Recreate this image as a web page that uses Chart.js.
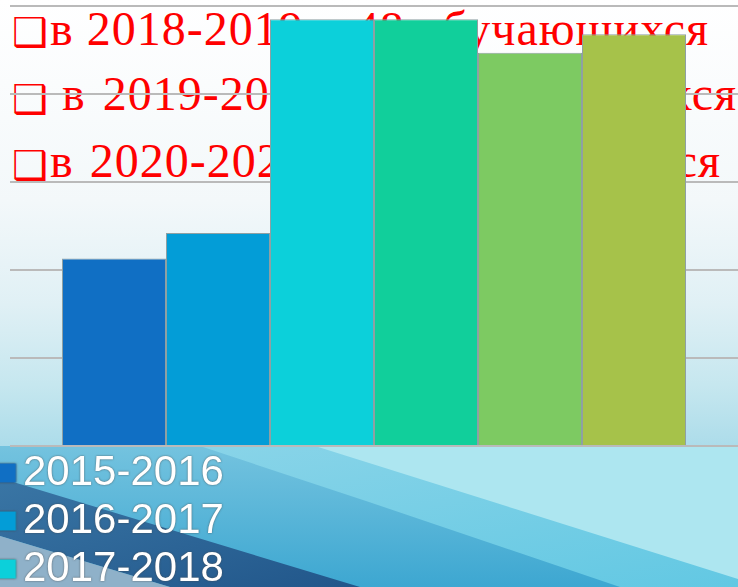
<!DOCTYPE html>
<html><head><meta charset="utf-8">
<script src="https://cdn.jsdelivr.net/npm/chart.js@4.4.1/dist/chart.umd.min.js"></script>
<style>
html,body{margin:0;padding:0;width:738px;height:587px;overflow:hidden;background:#fff;}
#bg{position:absolute;left:0;top:0;width:738px;height:587px;z-index:0}
.red{position:absolute;color:#ff0000;font-family:"Liberation Serif",serif;font-size:48px;line-height:48px;letter-spacing:1px;white-space:nowrap;z-index:1;margin:0}
.bul{position:absolute;color:#ff0000;font-family:"DejaVu Sans",sans-serif;font-size:40px;line-height:40px;z-index:1;margin:0}
#wrap{position:absolute;left:0;top:0;width:738px;height:744px;z-index:2}
</style></head>
<body>
<svg id="bg" width="738" height="587" viewBox="0 0 738 587" xmlns="http://www.w3.org/2000/svg">
  <defs>
    <linearGradient id="top" x1="0" y1="0" x2="0" y2="1">
      <stop offset="0" stop-color="#ffffff"/>
      <stop offset="0.45" stop-color="#f3f8fa"/>
      <stop offset="0.68" stop-color="#e0f0f5"/>
      <stop offset="0.86" stop-color="#c6e7ef"/>
      <stop offset="1" stop-color="#acdcea"/>
    </linearGradient>
    <linearGradient id="dark" x1="0" y1="0" x2="1" y2="1">
      <stop offset="0" stop-color="#3a76a5"/>
      <stop offset="1" stop-color="#21568a"/>
    </linearGradient>
    <linearGradient id="mid" x1="0" y1="0" x2="0" y2="1">
      <stop offset="0" stop-color="#74c3df"/>
      <stop offset="1" stop-color="#3da7d1"/>
    </linearGradient>
    <linearGradient id="lmid" x1="0" y1="0" x2="1" y2="1">
      <stop offset="0" stop-color="#8fd6e9"/>
      <stop offset="1" stop-color="#62c8e3"/>
    </linearGradient>
  </defs>
  <rect x="0" y="0" width="738" height="447" fill="url(#top)"/>
  <rect x="0" y="446" width="738" height="141" fill="#ade6f0"/>
  <polygon points="0,446 315,446 738,579 738,587 0,587" fill="url(#lmid)"/>
  <polygon points="0,446 200,446 369,502 620,587 0,587" fill="url(#mid)"/>
  <polygon points="0,478 360,587 170,587 0,536" fill="url(#dark)"/>
  <polygon points="0,536 170,587 0,587" fill="#8fb1c9"/>
</svg>

<div class="bul" style="left:12px;top:12px">❑</div>
<div class="red" style="left:50px;top:5px">в 2018-2019 – 48 обучающихся</div>
<div class="bul" style="left:12px;top:79px">❑</div>
<div class="red" style="left:62px;top:70px;word-spacing:4px">в 2019-2020 – 45 обучающихся</div>
<div class="bul" style="left:12px;top:145px">❑</div>
<div class="red" style="left:50px;top:137px;word-spacing:3px">в 2020-2021 – 47 обучающихся</div>

<div id="wrap"><canvas id="c" width="738" height="744"></canvas></div>

<script>
const categories = ['Количество обучающихся'];
const seasons = ['2015-2016', '2016-2017', '2017-2018', '2018-2019', '2019-2020', '2020-2021'];
const values = [21.3, 24.2, 48.5, 48.5, 44.7, 46.8];
const colors = ['#106FC4', '#039DD7', '#0CD0DA', '#11CF9B', '#7DCA62', '#A6C24A'];
const yTicks = [0, 10, 20, 30, 40, 50];

function legendSquare(color) {
  const cv = document.createElement('canvas');
  cv.width = 40; cv.height = 20;
  const g = cv.getContext('2d');
  g.fillStyle = color;
  g.fillRect(15.5, 0.5, 19, 19);
  return cv;
}

const datasets = seasons.map((s, i) => ({
  label: s,
  data: [values[i]],
  backgroundColor: colors[i],
  borderColor: '#8fa0a3',
  borderWidth: 1,
  categoryPercentage: 624 / 728,
  barPercentage: 1
}));

const legendOutline = {
  id: 'legendOutline',
  afterUpdate(chart) {
    const lg = chart.legend;
    if (lg && !lg._outlined) {
      const orig = lg.draw;
      lg.draw = function () {
        const ctx = this.ctx;
        ctx.save();
        ctx.shadowColor = 'rgba(70,70,70,0.85)';
        ctx.shadowBlur = 2;
        orig.apply(this, arguments);
        ctx.restore();
      };
      lg._outlined = true;
    }
  }
};

new Chart(document.getElementById('c'), {
  type: 'bar',
  data: { labels: categories, datasets: datasets },
  plugins: [legendOutline],
  options: {
    responsive: false,
    animation: false,
    events: [],
    layout: { padding: { left: -5, right: 0, top: 6, bottom: 0 } },
    scales: {
      x: { display: false },
      y: {
        min: yTicks[0], max: yTicks[yTicks.length - 1],
        afterBuildTicks: (scale) => { scale.ticks = yTicks.map(v => ({ value: v })); },
        afterFit: (scale) => { scale.width = 15; },
        ticks: { display: false },
        grid: { color: '#bababa', lineWidth: 2, drawTicks: false },
        border: { display: false }
      }
    },
    plugins: {
      tooltip: { enabled: false },
      legend: {
        position: 'bottom',
        align: 'start',
        labels: {
          usePointStyle: true,
          boxWidth: 1,
          padding: 6,
          color: '#ffffff',
          font: { family: '"Liberation Sans", Arial, sans-serif', size: 42 },
          generateLabels: (chart) => {
            const items = Chart.defaults.plugins.legend.labels.generateLabels(chart);
            items.forEach((it, i) => {
              it.text = it.text + '\u00a0'.repeat(16);
              it.pointStyle = legendSquare(colors[i]);
              it.lineWidth = 0;
            });
            return items;
          }
        }
      }
    }
  }
});
</script>
</body></html>
